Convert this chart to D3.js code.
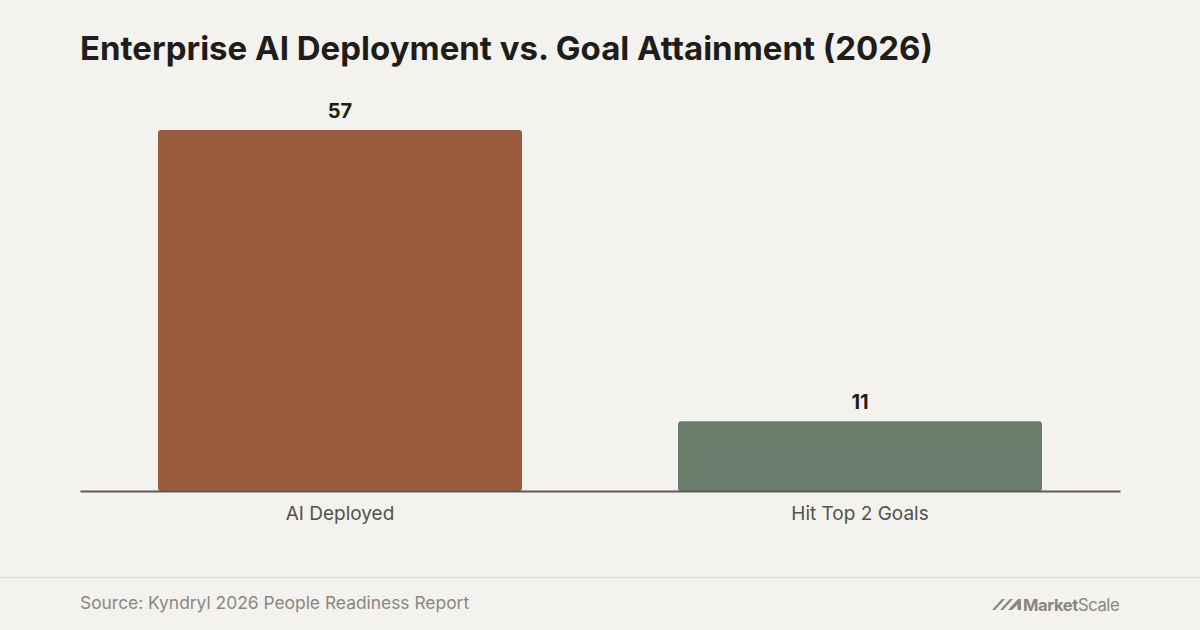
<!DOCTYPE html>
<html>
<head>
<meta charset="utf-8">
<script src="https://cdn.jsdelivr.net/npm/d3@7"></script>
<style>
  html, body { margin: 0; padding: 0; background: #f4f2ee; }
  svg { display: block; font-family: Inter, "Noto Sans", sans-serif; }
</style>
</head>
<body>
<svg id="chart" width="1200" height="630"></svg>
<script>
// Chart data
var categories = ["AI Deployed", "Hit Top 2 Goals"];
var values = [57, 11];
var barColors = ["#9a5a3e", "#6b7c6a"];

var svg = d3.select("#chart");
var W = 1200, H = 630;
var margin = { left: 80, right: 80, top: 111, bottom: 139 };
var baseY = H - margin.bottom; // 491

svg.append("rect")
    .attr("width", W)
    .attr("height", H)
    .attr("fill", "#f4f2ee");

// Title
svg.append("text")
    .attr("x", 80)
    .attr("y", 60)
    .attr("font-size", 33)
    .attr("font-weight", 700)
    .attr("fill", "#1f1d1a")
    .text("Enterprise AI Deployment vs. Goal Attainment (2026)");

// Scales
var x = d3.scaleBand()
    .domain(categories)
    .range([margin.left, W - margin.right])
    .paddingInner(0.3)
    .paddingOuter(0.15);

var y = d3.scaleLinear()
    .domain([0, 60])
    .range([baseY, margin.top]);

var data = categories.map((c, i) => ({ cat: c, val: values[i], color: barColors[i] }));

// Bars
svg.append("g")
    .selectAll("rect")
    .data(data)
    .join("rect")
        .attr("x", d => x(d.cat))
        .attr("y", d => y(d.val))
        .attr("width", x.bandwidth())
        .attr("height", d => baseY - y(d.val))
        .attr("rx", 3)
        .attr("fill", d => d.color);

// Value labels
svg.append("g")
    .selectAll("text")
    .data(data)
    .join("text")
        .attr("x", d => x(d.cat) + x.bandwidth() / 2)
        .attr("y", d => y(d.val) - 12)
        .attr("text-anchor", "middle")
        .attr("font-size", 20)
        .attr("font-weight", 700)
        .attr("fill", "#1f1d1a")
        .text(d => d.val);

// Baseline axis
var xAxis = d3.axisBottom(x).tickSize(0).tickPadding(16);
var axisG = svg.append("g")
    .attr("transform", `translate(0, ${baseY})`)
    .call(xAxis);
axisG.select(".domain")
    .attr("stroke", "#5e5a55")
    .attr("stroke-width", 2);
axisG.selectAll(".tick text")
    .attr("font-family", "Inter, 'Noto Sans', sans-serif")
    .attr("font-size", 19)
    .attr("fill", "#55514c");

// Footer
svg.append("line")
    .attr("x1", 0)
    .attr("x2", W)
    .attr("y1", 577.5)
    .attr("y2", 577.5)
    .attr("stroke", "#e4e1db")
    .attr("stroke-width", 1.5);

svg.append("text")
    .attr("x", 80)
    .attr("y", 609)
    .attr("font-size", 17.4)
    .attr("fill", "#8a8782")
    .text("Source: Kyndryl 2026 People Readiness Report");

// MarketScale logo
var logo = svg.append("g")
    .attr("transform", "translate(992, 598)");
logo.append("path")
    .attr("d", "M0,12 L10,1 L13,1 L3,12 Z M8,12 L18,1 L21,1 L11,12 Z M16,12 L26,1 L29,1 L29,12 L25.5,12 L25.5,6.5 L20,12 Z")
    .attr("fill", "#8a8782");
logo.append("text")
    .attr("x", 31)
    .attr("y", 12.5)
    .attr("font-size", 16.6)
    .attr("font-weight", 700)
    .attr("fill", "#8a8782")
    .attr("letter-spacing", -0.4)
    .text("Market")
  .append("tspan")
    .attr("font-weight", 400)
    .text("Scale");
</script>
</body>
</html>
